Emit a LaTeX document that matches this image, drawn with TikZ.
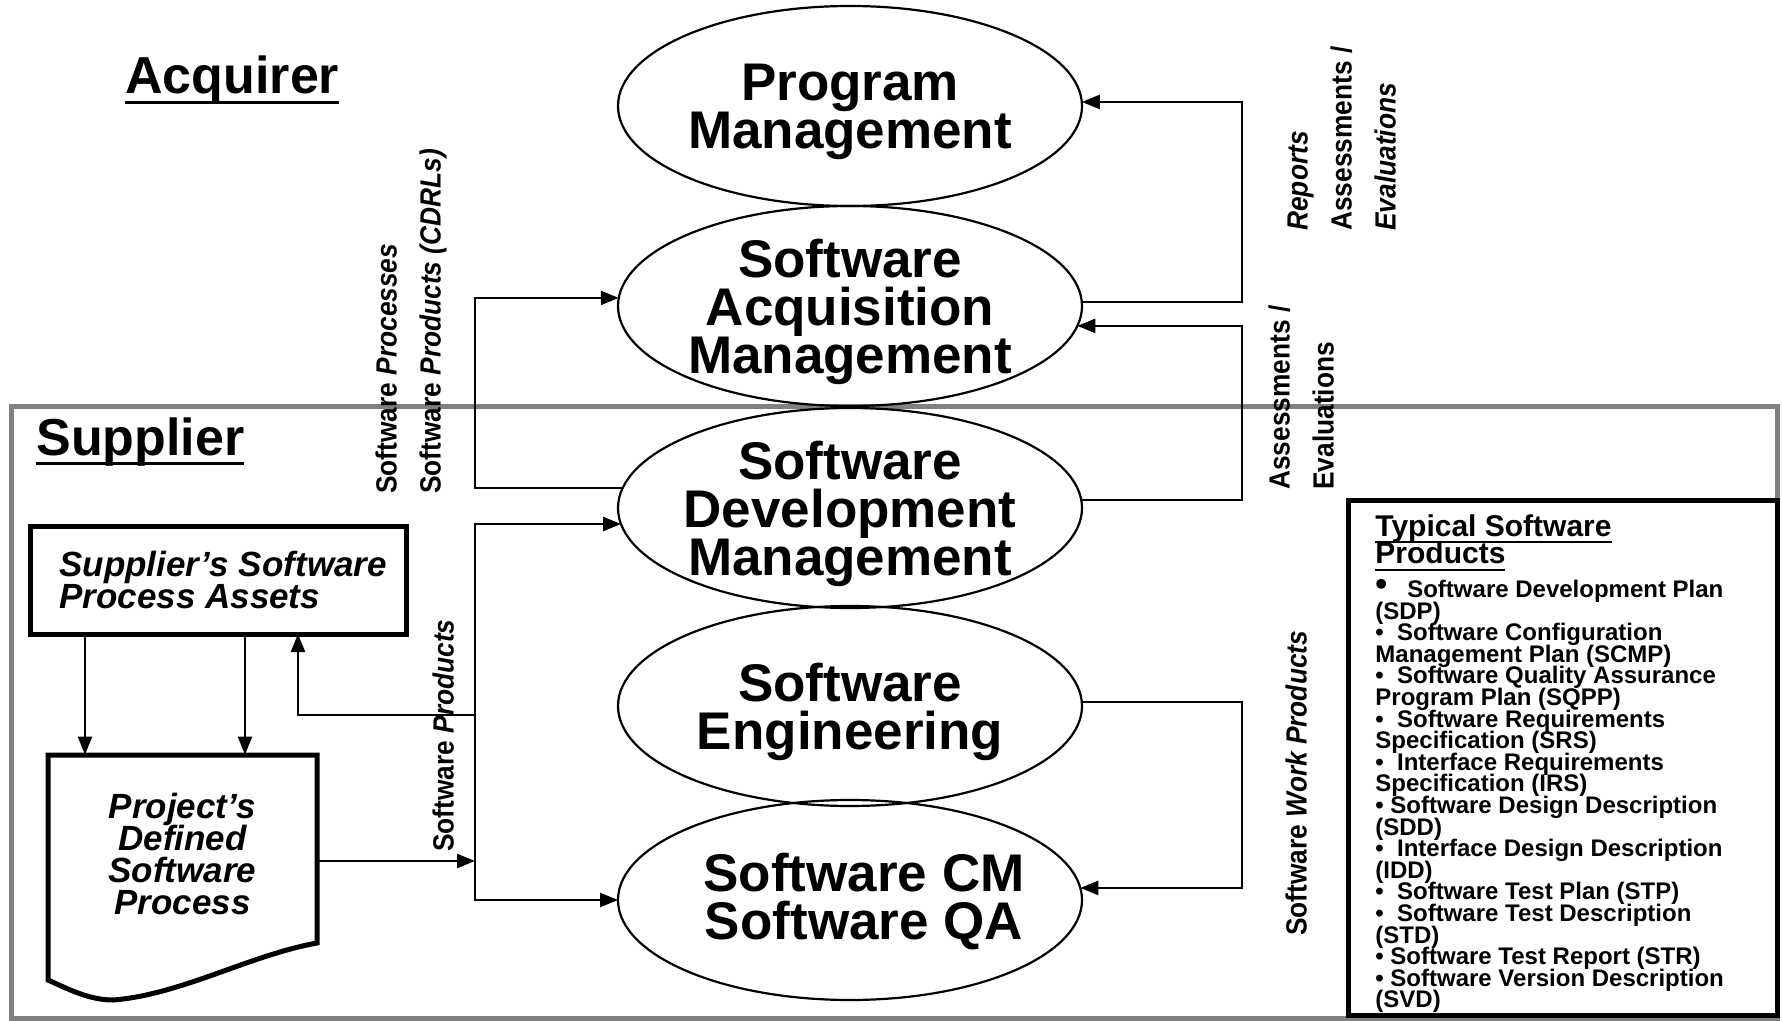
\documentclass[tikz,border=0pt]{standalone}
\usepackage{fontspec}
\setmainfont{Liberation Sans}
\newfontfamily\condfont{Liberation Sans}[FakeStretch=0.9]
\usepackage{tikz}
\usetikzlibrary{arrows.meta,calc,shapes.geometric}

\newsavebox{\headbox}
\newcommand{\headul}[1]{\sbox{\headbox}{#1}\rlap{\usebox{\headbox}}\rule[-5pt]{\wd\headbox}{1.5pt}}
\newcommand{\titleul}[1]{\sbox{\headbox}{#1}\rlap{\usebox{\headbox}}\rule[-3.4pt]{\wd\headbox}{0.9pt}}

\tikzset{
  proc/.style={ellipse, draw, line width=1.1pt, minimum width=232pt, minimum height=100pt, inner sep=0pt, outer sep=0pt},
  proctext/.style={align=center, inner sep=0pt, yshift=-3pt, font=\bfseries\fontsize{26.5}{24}\selectfont},
  thickbox/.style={draw, line width=2.5pt, inner sep=0pt, outer sep=0pt},
  flow/.style={line width=1.2pt, -{Triangle[length=9pt,width=7pt]}},
  twoway/.style={line width=1.2pt, {Triangle[length=9pt,width=7pt]}-{Triangle[length=9pt,width=7pt]}},
  vlabel/.style={rotate=90, anchor=north west, align=left, inner sep=0pt, font=\condfont\bfseries\fontsize{14.6}{22}\selectfont},
  heading/.style={anchor=base west, inner sep=0pt, font=\bfseries\fontsize{26}{30}\selectfont},
}

\begin{document}
\lineskiplimit=-16000pt
\begin{tikzpicture}[x=0.5pt, y=-0.5pt]
\useasboundingbox (0,0) rectangle (1782,1021);

% supplier frame
\draw[gray, line width=2.5pt] (11,407) rectangle (1777,1018);

\node[heading] (acq) at (125,94) {\headul{Acquirer}};
\node[heading] (sup) at (36,455) {\headul{Supplier}};

% management ellipses
\node[proc] (pm) at (850,106) {};
\node[proc] (sam) at (850,306) {};
\node[proc] (sdm) at (850,508) {};
\node[proc] (se) at (850,706) {};
\node[proc] (scm) at (850,900) {};
\node[proctext] (pmt) at (pm) {Program\\Management};
\node[proctext] (samt) at (sam) {Software\\Acquisition\\Management};
\node[proctext] (sdmt) at (sdm) {Software\\Development\\Management};
\node[proctext] (set) at (se) {Software\\Engineering};
\node[proctext, xshift=7pt, yshift=2pt] (scmt) at (scm) {Software CM\\Software QA};

% process assets and project process
\node[thickbox, minimum width=188pt, minimum height=54pt] (assets) at (218,580) {};
\node[anchor=west, align=left, inner sep=0pt, font=\bfseries\itshape\fontsize{17.5}{16}\selectfont] (assetst) at ([xshift=14.5pt]assets.west) {Supplier's Software\\Process Assets};
\node[minimum width=134.5pt, minimum height=99pt, inner sep=0pt, align=center, font=\bfseries\itshape\fontsize{17.5}{16}\selectfont] (doc) at (182.5,854) {Project's\\Defined\\Software\\Process};
\draw[line width=2.5pt] (48,755) -- (317,755) -- (317,943) .. controls (250,955) and (180,995) .. (113,1000) .. controls (90,1000) and (70,990) .. (48,980) -- cycle;

% typical products
\node[thickbox, minimum width=214.5pt, minimum height=257.5pt] (prodbox) at (1562.5,757.5) {};
\node[anchor=north west, align=left, inner sep=0pt, font=\bfseries\fontsize{15}{13.8}\selectfont] (prodtitle) at (1375,514) {\titleul{Typical Software}\\\titleul{Products}};
\node[anchor=north west, align=left, inner sep=0pt, font=\bfseries\fontsize{12}{10.8}\selectfont] (prodlist) at (1375,579) {%
{\fontsize{17}{10}\selectfont\raisebox{1pt}{•}}\ \ \ Software Development Plan\\
(SDP)\\
•\ \ Software Configuration\\
Management Plan (SCMP)\\
•\ \ Software Quality Assurance\\
Program Plan (SQPP)\\
•\ \ Software Requirements\\
Specification (SRS)\\
•\ \ Interface Requirements\\
Specification (IRS)\\
• Software Design Description\\
(SDD)\\
•\ \ Interface Design Description\\
(IDD)\\
•\ \ Software Test Plan (STP)\\
•\ \ Software Test Description\\
(STD)\\
• Software Test Report (STR)\\
• Software Version Description\\
(SVD)};

% flow labels
\node[vlabel] (cdrl) at (375,494) {Software \textit{Processes}\\Software \textit{Products (CDRLs)}};
\node[vlabel] (rep) at (1287,231) {\textit{Reports}\\Assessments /\\\textit{Evaluations}};
\node[vlabel] (evl) at (1268,490) {Assessments /\\Evaluations};
\node[vlabel] (wrk) at (1285,936) {Software \textit{Work Products}};
\node[vlabel] (prd) at (432,852) {Software \textit{Products}};

% connectors
\coordinate (lbus) at (475,0);
\coordinate (rbus) at (1242,0);
\coordinate (fbk) at (298,0);
\coordinate (dn1) at (85,0);
\coordinate (dn2) at (245,0);
\coordinate (fby) at (0,715);
\draw[flow] (sdm.175) -- (sdm.175 -| lbus) |- (sam.178.5);
\draw[twoway] (sdm.184.5) -- (sdm.184.5 -| lbus) |- (scm.west);
\draw[flow] ([yshift=-3.5pt]doc.east) -- ([yshift=-3.5pt]doc.east -| lbus);
\draw[flow] (lbus |- fby) -| (assets.south -| fbk);
\draw[flow] (assets.south -| dn1) -- (doc.north -| dn1);
\draw[flow] (assets.south -| dn2) -- (doc.north -| dn2);
\draw[flow] (sam.1.5) -- (sam.1.5 -| rbus) |- (pm.1.5);
\draw[flow] (sdm.2) -- (sdm.2 -| rbus) |- (sam.-5.3);
\draw[flow] (se.1) -- (se.1 -| rbus) |- (scm.3);
\end{tikzpicture}
\end{document}
